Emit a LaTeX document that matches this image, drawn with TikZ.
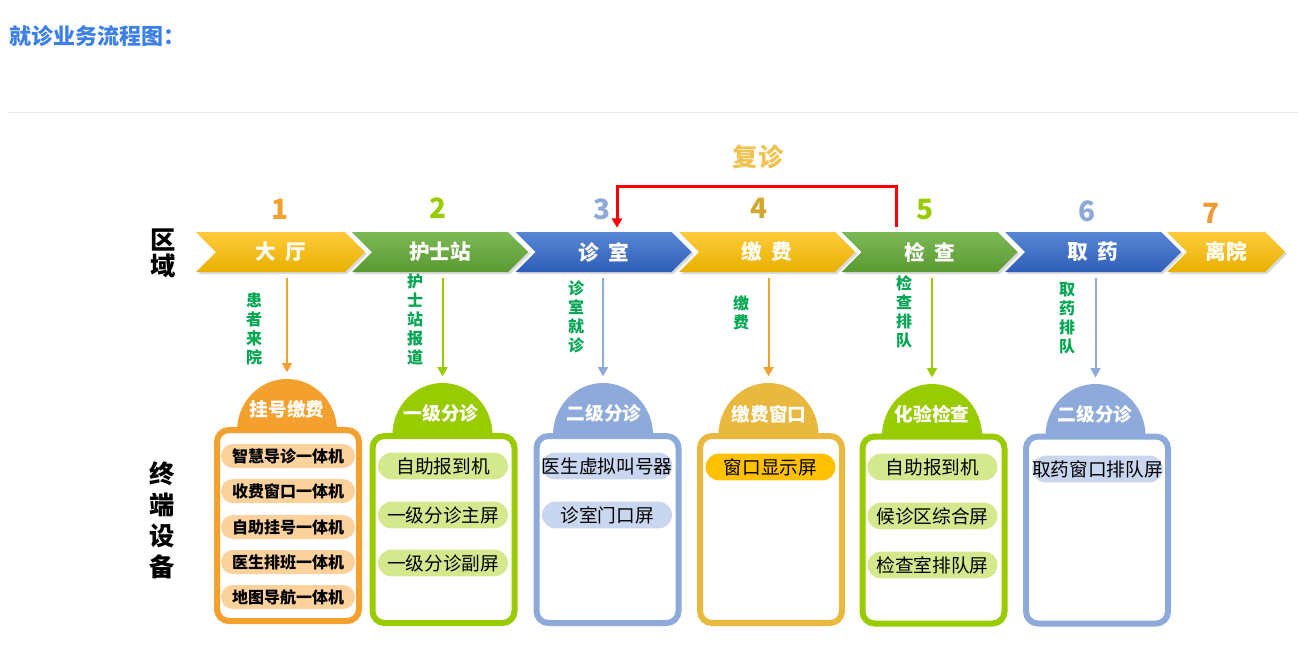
\documentclass[tikz,border=0pt]{standalone}
\usepackage{fontspec}
\setmainfont{Noto Sans CJK SC}
\usetikzlibrary{shapes.symbols,shadows,arrows.meta}
\definecolor{orangeA}{HTML}{F4A02E}
\definecolor{greenA}{HTML}{99CC00}
\definecolor{blueA}{HTML}{8EAADB}
\definecolor{goldA}{HTML}{E8B93E}
\definecolor{goldN}{HTML}{D2AA32}
\definecolor{orangeN}{HTML}{EE9A33}
\definecolor{labelgreen}{HTML}{00A650}
\definecolor{titleblue}{HTML}{3C7FE6}
\definecolor{fuzhencol}{HTML}{F0C350}
\definecolor{peach}{HTML}{FBD19C}
\definecolor{lightgreen}{HTML}{D4E98E}
\definecolor{lightblue}{HTML}{C9D6EF}
\definecolor{amber}{HTML}{FFC000}
\definecolor{goldtop}{HTML}{FFCB3C}
\definecolor{goldbot}{HTML}{E8B000}
\definecolor{greentop}{HTML}{7DB856}
\definecolor{greenbot}{HTML}{5A9A32}
\definecolor{bluetop}{HTML}{5886D4}
\definecolor{bluebot}{HTML}{2F5EB8}
\begin{document}
\begin{tikzpicture}[x=0.75pt,y=-0.75pt]\tikzset{zone/.style = {shape=signal, signal to=east, signal from=west, minimum height=30pt, minimum width=132pt, inner sep=0pt, text=white, font=\fontsize{15.5}{15.5}\selectfont\bfseries, drop shadow={shadow xshift=1.5pt, shadow yshift=-1.5pt, opacity=0.3}},
	zonegold/.style = {top color=goldtop, bottom color=goldbot},
	zonegreen/.style = {top color=greentop, bottom color=greenbot},
	zoneblue/.style = {top color=bluetop, bottom color=bluebot},
	num/.style = {font=\fontsize{21}{21}\selectfont\bfseries},
	note/.style = {text=labelgreen, align=center, inner sep=0pt, font=\fontsize{12}{14.25}\selectfont\bfseries},
	flow/.style = {line width=1.5pt, -{Triangle[length=7pt,width=7.5pt]}, shorten <=4.5pt, shorten >=5pt},
	unit/.style = {draw, line width=4.5pt, rounded corners=9pt, fill=white, minimum width=106.5pt, minimum height=140.25pt},
	header/.style = {text=white, font=\fontsize{14}{14}\selectfont\bfseries},
	itemA/.style = {rounded corners=9pt, inner sep=0pt, fill=peach, minimum width=100.5pt, minimum height=18pt, font=\fontsize{12}{12}\selectfont\bfseries},
	itemB/.style = {rounded corners=10pt, inner sep=0pt, minimum width=97.5pt, minimum height=20pt, font=\fontsize{14}{14}\selectfont}}
		\useasboundingbox (0,0) rectangle (1298,654);

		% title
		\node[anchor=west, text=titleblue, font=\fontsize{16.5}{16.5}\selectfont\bfseries] (title) at (5,36) {就诊业务流程图：};
		\draw[black!8, line width=0.75pt] (8,112) -- (1298,112);

		% areas
		\node[align=center, font=\fontsize{19}{19.5}\selectfont\bfseries] (area) at (163,253) {区\\域};
		\node[align=center, font=\fontsize{19}{23.25}\selectfont\bfseries] (term) at (162,520) {终\\端\\设\\备};

		\node[zone, zonegold, minimum width=126.75pt] (Z_1) at (280.5,252) {大\hspace{0.45em}厅};
		\node[zone, zonegreen] (Z_2) at (440,252) {护士站};
		\node[zone, zoneblue] (Z_3) at (603.5,252) {诊\hspace{0.45em}室};
		\node[zone, zonegold] (Z_4) at (767,252) {缴\hspace{0.45em}费};
		\node[zone, zonegreen] (Z_5) at (929.5,252) {检\hspace{0.45em}查};
		\node[zone, zoneblue] (Z_6) at (1093,252) {取\hspace{0.45em}药};
		\node[zone, zonegold, minimum width=88.5pt] (Z_7) at (1226,252) {离院};

		\node[num, text=orangeA] (N_1) at (280,209) {1};
		\node[num, text=greenA] (N_2) at (438,208) {2};
		\node[num, text=blueA] (N_3) at (602,209) {3};
		\node[num, text=goldN] (N_4) at (759,208) {4};
		\node[num, text=greenA] (N_5) at (925,210) {5};
		\node[num, text=blueA] (N_6) at (1087,211) {6};
		\node[num, text=orangeN] (N_7) at (1211,213) {7};

		% revisit
		\node[text=fuzhencol, font=\fontsize{19}{19}\selectfont\bfseries] (F) at (758,157) {复诊};
		\draw[red, line width=2.25pt, -{Triangle[length=7pt,width=7.5pt]}] ([shift={(-33.5,-5)}]Z_5.north) |- ([shift={(13.5,-45)}]Z_3.north) -- ([shift={(13.5,-4)}]Z_3.north);

		% domes
		\coordinate (D_1) at (287,379);
		\coordinate (D_2) at (442.5,383);
		\coordinate (D_3) at (603,383);
		\coordinate (D_4) at (768.5,383);
		\coordinate (D_5) at (932,384);
		\coordinate (D_6) at (1095.5,384);
		\fill[orangeA] ([shift={(50,52)}]D_1) arc[start angle=0, end angle=180, x radius=37.5pt, y radius=39pt] -- cycle;
		\fill[greenA] ([shift={(50,52)}]D_2) arc[start angle=0, end angle=180, x radius=37.5pt, y radius=39pt] -- cycle;
		\fill[blueA] ([shift={(50,52)}]D_3) arc[start angle=0, end angle=180, x radius=37.5pt, y radius=39pt] -- cycle;
		\fill[goldA] ([shift={(50,52)}]D_4) arc[start angle=0, end angle=180, x radius=37.5pt, y radius=39pt] -- cycle;
		\fill[greenA] ([shift={(50,52)}]D_5) arc[start angle=0, end angle=180, x radius=37.5pt, y radius=39pt] -- cycle;
		\fill[blueA] ([shift={(50,52)}]D_6) arc[start angle=0, end angle=180, x radius=37.5pt, y radius=39pt] -- cycle;

		\draw[flow, orangeA] (Z_1.south -| D_1) -- (D_1);
		\draw[flow, greenA] (Z_2.south -| D_2) -- (D_2);
		\draw[flow, blueA] (Z_3.south -| D_3) -- (D_3);
		\draw[flow, orangeA] (Z_4.south -| D_4) -- (D_4);
		\draw[flow, greenA] (Z_5.south -| D_5) -- (D_5);
		\draw[flow, blueA] (Z_6.south -| D_6) -- (D_6);

		\node[note] (L_1) at (254,328.5) {患\\者\\来\\院};
		\node[note] (L_2) at (415,319.5) {护\\士\\站\\报\\道};
		\node[note] (L_3) at (576,317) {诊\\室\\就\\诊};
		\node[note] (L_4) at (741,313) {缴\\费};
		\node[note] (L_5) at (904,311.5) {检\\查\\排\\队};
		\node[note] (L_6) at (1067,318) {取\\药\\排\\队};

		% terminals
		\node[unit, draw=orangeA, minimum height=143.25pt] (T_1) at (288,525.5) {};
		\node[unit, draw=greenA] (T_2) at (443.5,529.5) {};
		\node[unit, draw=blueA] (T_3) at (607.5,529.5) {};
		\node[unit, draw=goldA] (T_4) at (771,529.5) {};
		\node[unit, draw=greenA] (T_5) at (933.5,530) {};
		\node[unit, draw=blueA] (T_6) at (1097,530) {};

		\node[header] (H_1) at (287,409) {挂号缴费};
		\node[header] (H_2) at (441,413) {一级分诊};
		\node[header] (H_3) at (604,413) {二级分诊};
		\node[header] (H_4) at (769,414) {缴费窗口};
		\node[header] (H_5) at (932,414) {化验检查};
		\node[header] (H_6) at (1095,414) {二级分诊};

		\node[itemA] (T_1_1) at (288,456) {智慧导诊一体机};
		\node[itemA] (T_1_2) at (288,491) {收费窗口一体机};
		\node[itemA] (T_1_3) at (288,527) {自助挂号一体机};
		\node[itemA] (T_1_4) at (288,562) {医生排班一体机};
		\node[itemA] (T_1_5) at (288,597) {地图导航一体机};

		\node[itemB, fill=lightgreen] (T_2_1) at (443,466) {自助报到机};
		\node[itemB, fill=lightgreen] (T_2_2) at (443,515) {一级分诊主屏};
		\node[itemB, fill=lightgreen] (T_2_3) at (443,563) {一级分诊副屏};

		\node[itemB, fill=lightblue] (T_3_1) at (607,466) {医生虚拟叫号器};
		\node[itemB, fill=lightblue] (T_3_2) at (607,515) {诊室门口屏};

		\node[itemB, fill=amber] (T_4_1) at (770.5,467) {窗口显示屏};

		\node[itemB, fill=lightgreen] (T_5_1) at (932.5,467) {自助报到机};
		\node[itemB, fill=lightgreen] (T_5_2) at (932.5,516) {候诊区综合屏};
		\node[itemB, fill=lightgreen] (T_5_3) at (932.5,565) {检查室排队屏};

		\node[itemB, fill=lightblue] (T_6_1) at (1097.5,469) {取药窗口排队屏};
	\end{tikzpicture}
\end{document}
